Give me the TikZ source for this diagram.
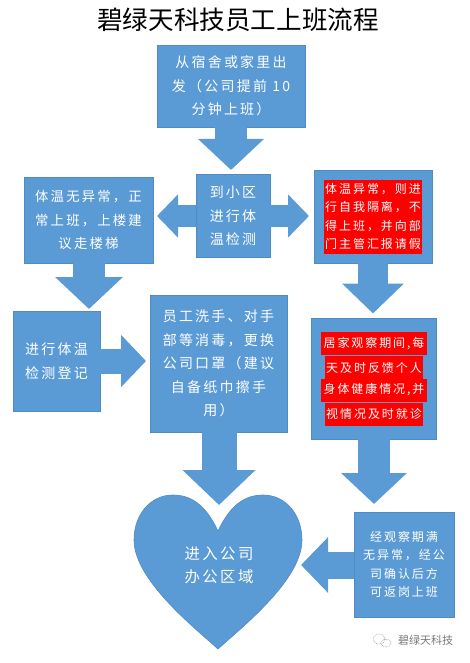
\documentclass[tikz,border=0pt]{standalone}
\usepackage{xcolor}
\usepackage{fontspec}
\usetikzlibrary{arrows.meta, positioning, calc}
\newfontfamily\cjkplain{Noto Sans CJK SC}
\newfontfamily\cjkwide[LetterSpace=16]{Noto Sans CJK SC}
\definecolor{officeblue}{RGB}{91, 155, 213}
\definecolor{edgeblue}{RGB}{80, 140, 196}
\definecolor{alertred}{RGB}{255, 0, 0}
\definecolor{markgray}{RGB}{120, 120, 120}

\begin{document}
\begin{tikzpicture}[
    x=1pt, y=-1pt,
    box/.style={rectangle, draw=edgeblue, line width=0.6pt, fill=officeblue, text=white,
                align=center, inner sep=0pt},
    bodytext/.style={font=\cjkwide\fontsize{14}{23.5}\selectfont},
    sidetext/.style={font=\cjkwide\fontsize{13.4}{23.5}\selectfont},
    hearttext/.style={font=\cjkwide\fontsize{15.4}{23}\selectfont},
    smalltext/.style={font=\cjkwide\fontsize{12}{18.5}\selectfont},
    alert/.style={rectangle, fill=alertred, text=white, align=center, inner sep=0pt},
    blockarrow/.style n args={3}{draw=officeblue, line width=#1pt,
                -{Triangle[length=#2pt, width=#3pt]}}
]
\useasboundingbox (0,0) rectangle (470,663);

% Title
\node[font=\cjkplain\fontsize{25.6}{28}\selectfont, text=black, inner sep=0pt] (title) at (238,20) {碧绿天科技员工上班流程};

% Heart
\draw[fill=officeblue, draw=edgeblue, line width=0.6pt] (218,531)
    .. controls (208,510) and (195,495) .. (173,495)
    .. controls (150,495) and (134,515) .. (134,540)
    .. controls (134,580) and (195,628) .. (218,649)
    .. controls (241,628) and (302,580) .. (302,540)
    .. controls (302,515) and (286,495) .. (263,495)
    .. controls (241,495) and (228,510) .. (218,531) -- cycle;
\node[hearttext, text=white, align=center, inner sep=0pt] (office) at (219,565.5) {进入公司\\办公区域};

% Boxes
\node[box, bodytext, minimum width=148pt, minimum height=82pt] (start) at (231,86) {从宿舍或家里出\\发（公司提前 10\\分钟上班）};
\node[box, bodytext, minimum width=74pt, minimum height=83pt] (check) at (233,216) {到小区\\进行体\\温检测};
\node[box, sidetext, minimum width=129pt, minimum height=86pt] (normal) at (88.5,220) {体温无异常，正\\常上班，上楼建\\议走楼梯};
\node[box, bodytext, minimum width=87pt, minimum height=100pt] (register) at (56.5,361) {进行体温\\检测登记};
\node[box, bodytext, minimum width=137pt, minimum height=137pt] (wash) at (218.5,363.5) {员工洗手、对手\\部等消毒，更换\\公司口罩（建议\\自备纸巾擦手\\用）};
\node[box, minimum width=118pt, minimum height=93pt] (abnormal) at (373,216.5) {};
\node[box, minimum width=125pt, minimum height=121pt] (home) at (373.5,378.5) {};
\node[box, smalltext, minimum width=100pt, minimum height=105pt] (confirm) at (404,564.5) {经观察期满\\无异常，经公\\司确认后方\\可返岗上班};

% Red texts
\node[alert, smalltext, minimum width=98pt, minimum height=74pt] (abnormaltext) at (abnormal) {体温异常，则进\\行自我隔离，不\\得上班，并向部\\门主管汇报请假};
\node[alert, smalltext, minimum width=106pt, minimum height=23pt] (homea) at (374,343.5) {居家观察期间,每};
\node[alert, smalltext, minimum width=98pt, minimum height=23pt] (homeb) at (374,367.5) {天及时反馈个人};
\node[alert, smalltext, minimum width=106pt, minimum height=23pt] (homec) at (374,390) {身体健康情况,并};
\node[alert, smalltext, minimum width=98pt, minimum height=23pt] (homed) at (374,414) {视情况及时就诊};

% Arrow tips
\coordinate (t1) at (231,170);
\coordinate (t2) at (157,216);
\coordinate (t3) at (309,216);
\coordinate (t4) at (89,309);
\coordinate (t5) at (373,313.5);
\coordinate (t6) at (146,361);
\coordinate (t7) at (219,505);
\coordinate (t8) at (374,504);
\coordinate (t9) at (301,565);

% Arrows
\draw[blockarrow={32}{31}{64}] (t1 |- start.south) -- (t1);
\draw[blockarrow={22}{21}{42}] (check.west |- t2) -- (t2);
\draw[blockarrow={22}{21}{42}] (check.east |- t3) -- (t3);
\draw[blockarrow={32}{32}{66}] (t4 |- normal.south) -- (t4);
\draw[blockarrow={30}{30}{60}] (t5 |- abnormal.south) -- (t5);
\draw[blockarrow={25}{25}{51}] (register.east |- t6) -- (t6);
\draw[blockarrow={35}{35}{71}] (t7 |- wash.south) -- (t7);
\draw[blockarrow={32}{31}{64}] (t8 |- home.south) -- (t8);
\draw[blockarrow={27}{27}{54}] (confirm.west |- t9) -- (t9);

% Watermark
\draw[markgray, line width=0.5pt, densely dotted] (379,639) ellipse (6pt and 5pt);
\draw[markgray, line width=0.5pt, densely dotted] (386,643) ellipse (5pt and 4pt);
\node[font=\cjkplain\fontsize{11}{12}\selectfont, text=markgray, inner sep=0pt] (mark) at (425.5,640) {碧绿天科技};
\end{tikzpicture}
\end{document}
